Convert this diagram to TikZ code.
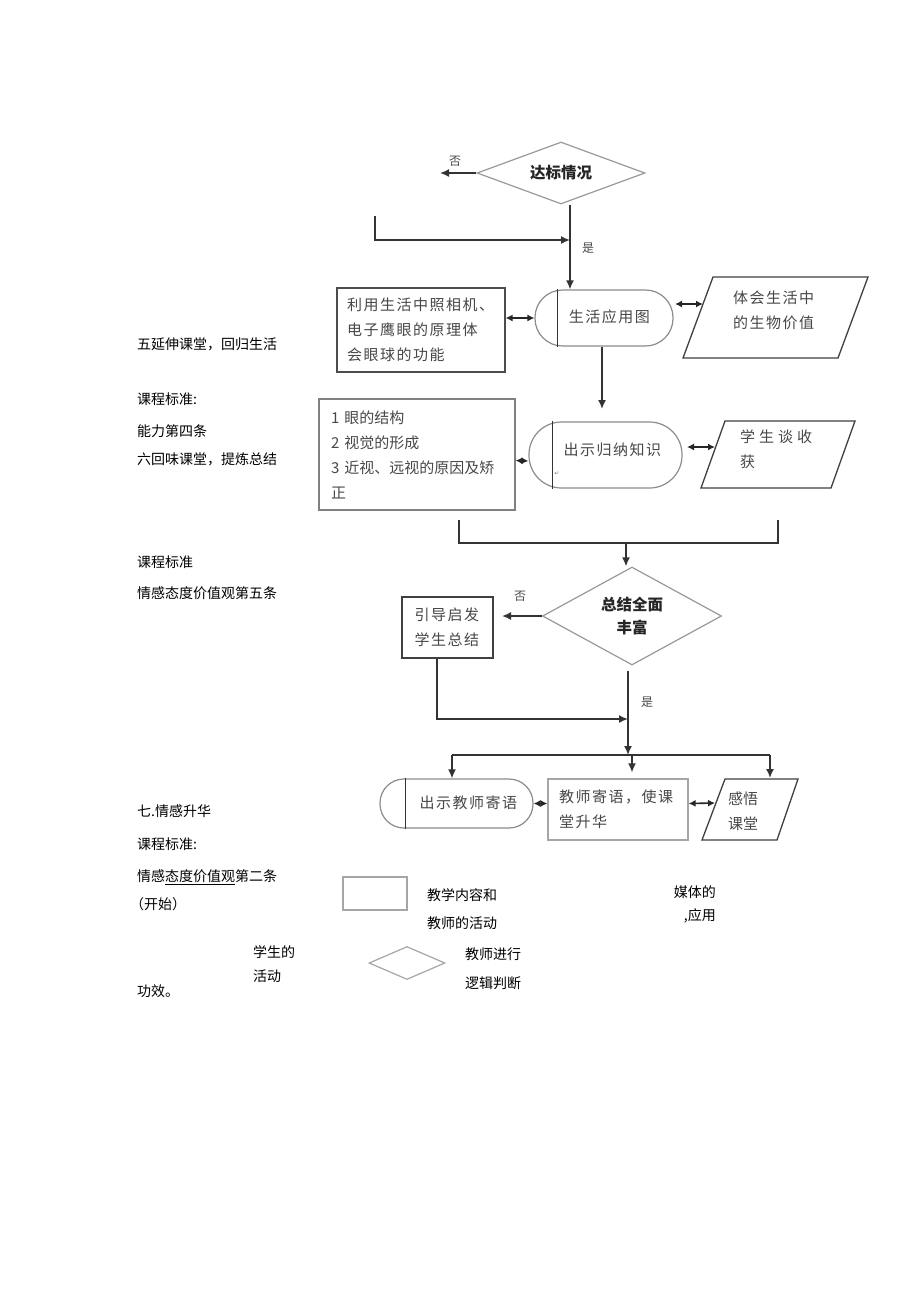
\documentclass[tikz,border=0pt]{standalone}
\usepackage{fontspec}
\setmainfont{Noto Sans CJK SC}
\newfontfamily\djv{DejaVu Sans}
\usetikzlibrary{shapes.geometric,arrows.meta}
\def\spc#1{\spci#1\relax}
\def\spci#1{\ifx#1\relax\else#1\kern1.5pt\expandafter\spci\fi}
\tikzset{
  lt/.style={anchor=west, inner sep=0pt, font=\fontsize{14}{16}\selectfont, text=black},
  ft/.style={inner sep=0pt, font=\fontsize{15}{25}\selectfont, text=black!72},
  arr/.style={draw=black!80, line width=1.6pt, -{Latex[length=9pt,width=8pt]}},
  dbl/.style={draw=black!85, line width=1.6pt, {Latex[length=7pt,width=7pt]}-{Latex[length=7pt,width=7pt]}},
  ln/.style={draw=black!80, line width=1.6pt},
  boxd/.style={draw=black!65, line width=1.2pt, inner sep=0pt},
  term/.style={draw=black!45, line width=1.2pt, inner sep=0pt},
  vl/.style={draw=black!80, line width=1.3pt},
  dia/.style={diamond, draw=black!40, line width=1.2pt, inner sep=0pt, aspect=2},
  para/.style={draw=black!75, line width=1.3pt},
  yn/.style={inner sep=0pt, font=\fontsize{12}{12}\selectfont, text=black!70},
}
\begin{document}
\begin{tikzpicture}[x=1pt,y=-1pt]
\fill[white] (0,0) rectangle (920,1301);
\useasboundingbox (0,0) rectangle (920,1301);

% ---------- left texts ----------
\node[lt] (l1) at (137,344) {五延伸课堂，回归生活};
\node[lt] (l2) at (137,399) {课程标准:};
\node[lt] (l3) at (137,431) {能力第四条};
\node[lt] (l4) at (137,459) {六回味课堂，提炼总结};
\node[lt] (l5) at (137,562) {课程标准};
\node[lt] (l6) at (137,593) {情感态度价值观第五条};
\node[lt] (l7) at (137,811) {七.情感升华};
\node[lt] (l8) at (137,844) {课程标准:};
\node[lt] (l9) at (137,877) {情感\underline{态度价值观}第二条};
\node[lt] (l10) at (130,904) {（开始）};
\node[lt] (l11) at (137,991) {功效。};
\node[lt] (l12) at (253,952) {学生的};
\node[lt] (l13) at (253,976) {活动};

% ---------- legend ----------
\node[draw=black!35, line width=1.2pt, minimum width=64pt, minimum height=33pt, inner sep=0pt] (lb) at (375,893.5) {};
\node[lt] (l14) at (427,895) {教学内容和};
\node[lt] (l15) at (427,923) {教师的活动};
\node[dia, draw=black!35, minimum width=76pt, minimum height=33pt] (ld) at (407,963) {};
\node[lt] (l16) at (465,954) {教师进行};
\node[lt] (l17) at (465,983) {逻辑判断};
\node[lt, anchor=east] (l18) at (716,892) {媒体的};
\node[lt, anchor=east] (l19) at (716,916) {,应用};

% ---------- top decision ----------
\node[dia, aspect=2.7, minimum width=168pt, minimum height=62pt, font=\fontsize{15.5}{18}\selectfont\bfseries, text=black!85] (d1) at (561,173) {达标情况};
\coordinate (no1) at (440,173);
\draw[arr] (d1.west) -- (no1);
\node[yn] (n1) at (455,161) {否};
\coordinate (j1) at ([xshift=9pt]d1.south);
\coordinate (s1) at (375,216);
\coordinate (s2) at (375,240);
\node[yn] (y1) at (588,248) {是};

% ---------- row 1 ----------
\node[boxd, draw=black!70, minimum width=168pt, minimum height=84pt, ft, align=left, text width=148pt] (b1) at (421,330)
  {\spc{利用生活中照相机、}\\\spc{电子鹰眼的原理体}\\\spc{会眼球的功能}};
\node[term, rounded corners=27.5pt, minimum width=138pt, minimum height=56pt] (t1) at (604,318) {};
\draw[vl] ([xshift=23pt]t1.north west) -- ([xshift=23pt]t1.south west);
\node[ft] (t1t) at (610,317) {\spc{生活应用图}};
\draw[para] (713,277) -- (868,277) -- (838,358) -- (683,358) -- cycle;
\node[ft, align=left, anchor=west] (p1t) at (733,310) {\spc{体会生活中}\\\spc{的生物价值}};
\coordinate (p1l) at (703,304);
\coordinate (t1r) at (675,304);

\draw[arr] (s1) -- (s2) -- (j1 |- s2);
\draw[arr] (j1) -- (j1 |- t1.north);
\draw[dbl] (b1.east |- t1.west) -- (t1.west);
\draw[dbl] (t1r) -- (p1l);

% ---------- row 2 ----------
\coordinate (k1) at (602,409);
\draw[arr] (t1.south -| k1) -- (k1);
\node[boxd, draw=black!50, minimum width=196pt, minimum height=111pt, ft, align=left, text width=172pt] (b2) at (417,454.5)
  {1 眼的结构\\2 视觉的形成\\3 近视、远视的原因及矫\\正};
\node[term, rounded corners=32.5pt, minimum width=153pt, minimum height=66pt] (t2) at (605.5,455) {};
\draw[vl] ([xshift=24pt]t2.north west) -- ([xshift=24pt]t2.south west);
\node[ft] (t2t) at (613,450) {\spc{出示归纳知识}};
\node[inner sep=0pt, font=\djv\fontsize{6}{6}\selectfont, text=black!50] (mk) at (557,474) {↵};
\draw[para] (725,421) -- (855,421) -- (831,488) -- (701,488) -- cycle;
\node[ft, align=left, anchor=west] (p2t) at (740,449)
  {学\kern4pt 生\kern4pt 谈\kern4pt 收\\获};
\coordinate (p2l) at (715,447);
\coordinate (t2r) at (687,447);
\draw[dbl] ([yshift=-6pt]b2.east) -- ([yshift=-6pt]t2.west);
\draw[dbl] (t2r) -- (p2l);

% ---------- merge and second decision ----------
\coordinate (br1) at (459,520);
\coordinate (br3) at (778,520);
\coordinate (bm) at (626,543);
\draw[ln] (br1) |- (bm) -| (br3);
\node[dia, minimum width=179pt, minimum height=98pt, font=\fontsize{15.5}{23}\selectfont\bfseries, text=black!85, align=center] (d2) at (632,616) {总结全面\\丰富};
\draw[arr] (bm) -- (bm |- d2.north);
\node[boxd, draw=black!75, minimum width=91pt, minimum height=61pt, ft, align=center] (b3) at (447.5,627.5)
  {\spc{引导启发}\\\spc{学生总结}};
\coordinate (nb) at (502,616);
\draw[arr] (d2.west) -- (nb);
\node[yn] (n2) at (520,596) {否};
\coordinate (m1) at (628,671);
\coordinate (m2) at (628,755);
\draw[arr] (m1) -- (m2);
\node[yn] (y2) at (647,702) {是};
\coordinate (m3) at (628,719);
\draw[arr] ([xshift=-10.5pt]b3.south) |- (m3);

% ---------- bottom row ----------
\coordinate (h1) at (452,755);
\coordinate (h2) at (770,755);
\coordinate (h3) at (632,755);
\draw[ln] (h1) -- (h2);
\node[term, rounded corners=24pt, minimum width=153pt, minimum height=49pt] (t3) at (456.5,803.5) {};
\draw[vl] ([xshift=26pt]t3.north west) -- ([xshift=26pt]t3.south west);
\node[ft] (t3t) at (469,803) {\spc{出示教师寄语}};
\node[boxd, draw=black!35, minimum width=140pt, minimum height=61pt, ft, align=left, text width=118pt] (b4) at (618,809.5)
  {\spc{教师寄语，使课}\\\spc{堂升华}};
\draw[para] (725,779) -- (798,779) -- (777,840) -- (702,840) -- cycle;
\node[ft, align=left, anchor=west] (p3t) at (728,811) {感悟\\课堂};
\coordinate (p3l) at (715,803);
\coordinate (q3) at (770,778);
\draw[arr] (h1) -- (h1 |- t3.north);
\draw[arr] (h3) -- ([yshift=6pt]h3 |- b4.north);
\draw[arr] (h2) -- (q3);
\draw[dbl] (t3.east) -- (b4.west |- t3.east);
\draw[dbl] (b4.east |- t3.east) -- (p3l);
\end{tikzpicture}
\end{document}
